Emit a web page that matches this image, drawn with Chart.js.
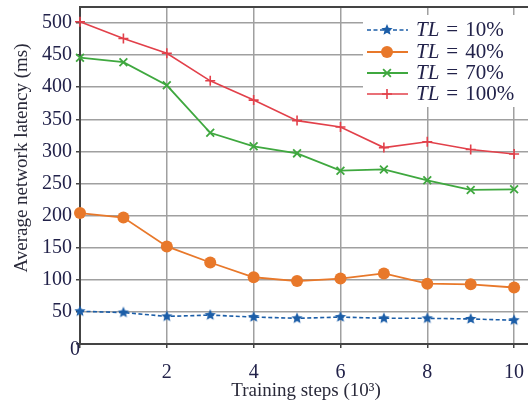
<!DOCTYPE html>
<html>
<head>
<meta charset="utf-8">
<script src="https://cdn.jsdelivr.net/npm/chart.js@4"></script>
<style>
  body { margin: 0; background: #fff; }
  canvas { display: block; }
</style>
</head>
<body>
<canvas id="latencyChart" width="528" height="403"></canvas>
<script>
// ================= DATA =================
const steps = [0, 1, 2, 3, 4, 5, 6, 7, 8, 9, 10];
const tl10 = [51, 49, 43, 45, 42, 40, 42, 40, 40, 39, 37];
const tl40 = [204, 197, 152, 127, 104, 98, 102, 110, 94, 93, 88];
const tl70 = [446, 439, 403, 329, 308, 297, 270, 272, 255, 240, 241];
const tl100 = [502, 476, 453, 410, 380, 348, 338, 306, 315, 303, 296];

const tlLabels = ['10%', '40%', '70%', '100%'];
const xTicks = [0, 2, 4, 6, 8, 10];
const yTicks = [0, 50, 100, 150, 200, 250, 300, 350, 400, 450, 500];

const xTitle = 'Training steps (10\u00B3)';
const yTitle = 'Average network latency (ms)';

const SERIF = "'Liberation Serif', 'Times New Roman', serif";
const TEXT = '#22224a';

// ================= STAR MARKER =================
function makeStar(color, r) {
    const c = document.createElement('canvas');
    c.width = c.height = r * 2 + 2;
    const g = c.getContext('2d');
    g.fillStyle = color;
    g.beginPath();
    for (let i = 0; i < 10; i++) {
        const rad = i % 2 === 0 ? r : r * 0.45;
        const a = -Math.PI / 2 + i * Math.PI / 5;
        g.lineTo(r + 1 + rad * Math.cos(a), r + 1 + rad * Math.sin(a));
    }
    g.closePath();
    g.fill();
    return c;
}
const star = makeStar('#1c5ea8', 6);

function pts(arr) {
    return steps.map((s, i) => ({ x: s, y: arr[i] }));
}

// ================= DATASETS =================
const datasets = [
    {
        label: 'TL = ' + tlLabels[0], data: pts(tl10),
        borderColor: '#1c5ea8', backgroundColor: '#1c5ea8',
        borderWidth: 1.6, borderDash: [4, 2.5],
        pointStyle: star, pointRadius: 6
    },
    {
        label: 'TL = ' + tlLabels[1], data: pts(tl40),
        borderColor: '#e8782a', backgroundColor: '#e8782a',
        borderWidth: 1.8, pointStyle: 'circle', pointRadius: 6, pointBorderWidth: 0
    },
    {
        label: 'TL = ' + tlLabels[2], data: pts(tl70),
        borderColor: '#3fa83f', backgroundColor: '#3fa83f',
        borderWidth: 1.8, pointStyle: 'crossRot', pointRadius: 5.5, pointBorderWidth: 1.8
    },
    {
        label: 'TL = ' + tlLabels[3], data: pts(tl100),
        borderColor: '#e2404a', backgroundColor: '#e2404a',
        borderWidth: 1.6, pointStyle: 'cross', pointRadius: 5, pointBorderWidth: 1.6
    }
];
datasets.forEach(d => { d.clip = false; d.tension = 0; d.fill = false; });

// ================= EXTRA DRAWING (legend, titles, frame) =================
const extras = {
    id: 'extras',
    afterDraw(chart) {
        const ctx = chart.ctx;
        const area = chart.chartArea;
        ctx.save();

        // top frame line
        ctx.strokeStyle = '#444';
        ctx.lineWidth = 2;
        ctx.beginPath();
        ctx.moveTo(area.left, area.top);
        ctx.lineTo(area.right, area.top);
        ctx.stroke();

        // y "0" label sits at the corner
        ctx.fillStyle = TEXT;
        ctx.font = '20px ' + SERIF;
        ctx.textAlign = 'center';
        ctx.textBaseline = 'middle';
        ctx.fillText('0', 75, chart.scales.y.getPixelForValue(0) + 6);

        // axis titles
        ctx.fillStyle = '#2a2a3a';
        ctx.font = '19px ' + SERIF;
        ctx.fillText(xTitle, 306, 391);
        ctx.save();
        ctx.translate(22, 158);
        ctx.rotate(-Math.PI / 2);
        ctx.fillText(yTitle, 0, 0);
        ctx.restore();

        // legend
        ctx.fillStyle = '#fff';
        ctx.fillRect(363, area.top + 8, 528 - 363, 92);
        const rows = [30, 52, 73, 94];
        chart.data.datasets.forEach((d, i) => {
            const y = rows[i];
            ctx.save();
            ctx.strokeStyle = d.borderColor;
            ctx.lineWidth = d.borderWidth;
            ctx.setLineDash(d.borderDash || []);
            ctx.beginPath();
            ctx.moveTo(367, y);
            ctx.lineTo(408, y);
            ctx.stroke();
            ctx.restore();
            ctx.save();
            ctx.strokeStyle = d.borderColor;
            ctx.fillStyle = d.backgroundColor;
            ctx.lineWidth = d.pointBorderWidth || 1;
            if (d.pointStyle === 'circle') {
                ctx.beginPath();
                ctx.arc(387, y, d.pointRadius, 0, Math.PI * 2);
                ctx.fill();
            } else {
                Chart.helpers.drawPoint(ctx, {
                    pointStyle: d.pointStyle, radius: d.pointRadius,
                    borderWidth: d.pointBorderWidth || 1, rotation: 0
                }, 387, y);
            }
            ctx.restore();
            ctx.fillStyle = TEXT;
            ctx.textAlign = 'left';
            ctx.textBaseline = 'middle';
            ctx.font = 'italic 21px ' + SERIF;
            ctx.fillText('TL', 416, y);
            let x = 416 + ctx.measureText('TL').width + 7;
            ctx.font = '21px ' + SERIF;
            ctx.fillText('=', x, y);
            x += ctx.measureText('=').width + 7;
            ctx.fillText(tlLabels[i], x, y);
        });
        ctx.restore();
    }
};

// ================= CHART =================
new Chart(document.getElementById('latencyChart').getContext('2d'), {
    type: 'line',
    data: { datasets: datasets },
    options: {
        responsive: false,
        animation: false,
        devicePixelRatio: 1,
        layout: { autoPadding: false, padding: { top: 7, right: 0, left: 0, bottom: 0 } },
        plugins: { legend: { display: false }, tooltip: { enabled: false } },
        scales: {
            x: {
                type: 'linear',
                bounds: 'data',
                min: 0,
                max: 10.32,
                afterBuildTicks: s => { s.ticks = xTicks.map(v => ({ value: v })); },
                afterFit: s => { s.height = 59; s.paddingLeft = 0; s.paddingRight = 0; },
                grid: { color: '#a0a0a0', lineWidth: 1.5, tickLength: 4, tickColor: '#444' },
                border: { color: '#444', width: 2 },
                ticks: {
                    padding: 13,
                    maxRotation: 0,
                    color: TEXT,
                    font: { family: SERIF, size: 20 },
                    callback: v => (v === 0 ? '' : v)
                }
            },
            y: {
                bounds: 'data',
                min: 0,
                max: 525,
                afterBuildTicks: s => { s.ticks = yTicks.map(v => ({ value: v })); },
                afterFit: s => { s.width = 80; s.paddingTop = 0; s.paddingBottom = 0; },
                grid: { color: '#a0a0a0', lineWidth: 1.5, tickLength: 4, tickColor: '#444' },
                border: { color: '#444', width: 2 },
                ticks: {
                    padding: 4,
                    color: TEXT,
                    font: { family: SERIF, size: 20 },
                    callback: v => (v === 0 ? '' : v)
                }
            }
        }
    },
    plugins: [extras]
});
</script>
</body>
</html>
